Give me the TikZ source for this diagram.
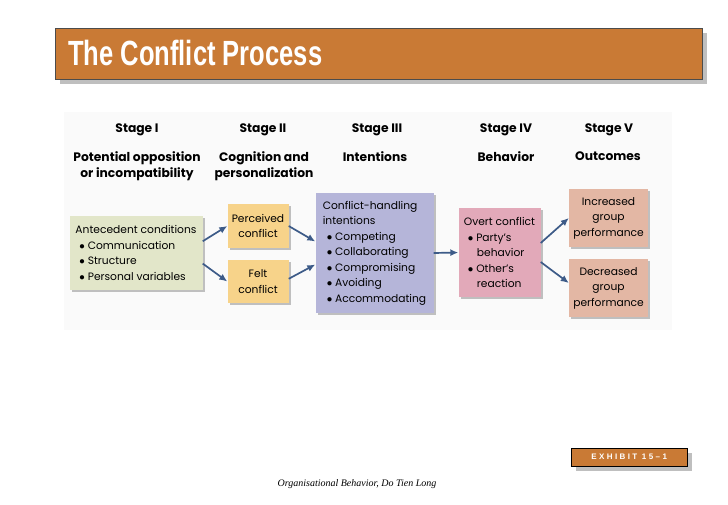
\documentclass[tikz,border=0pt]{standalone}
\usepackage{fontspec}
\setmainfont{Poppins}
\newfontfamily\titlefont{Liberation Sans}
\newfontfamily\footfont{Liberation Serif}
\usetikzlibrary{positioning, shadows, arrows.meta}

\definecolor{titleorange}{HTML}{C97A35}
\definecolor{antegreen}{HTML}{E2E6C9}
\definecolor{percyellow}{HTML}{F7D38A}
\definecolor{intentblue}{HTML}{B5B5D9}
\definecolor{behavpink}{HTML}{E2A9B9}
\definecolor{outsalmon}{HTML}{E3B7A4}
\definecolor{arrowblue}{HTML}{3D5B88}

\tikzset{
  box/.style={draw=none, align=center, font=\fontsize{10.7}{15.5}\selectfont,
    inner sep=3pt, drop shadow={shadow xshift=2pt, shadow yshift=-2pt, fill=black!40, opacity=.6}},
  stagehead/.style={font=\bfseries\fontsize{12.3}{16}\selectfont, align=center},
  flow/.style={-{Latex[length=8pt,width=7pt]}, line width=1.7pt, draw=arrowblue},
}

\begin{document}
\begin{tikzpicture}[x=1pt, y=-1pt]
    \useasboundingbox (0,0) rectangle (728,504);

    % title bar
    \fill[black!25] (60,33) rectangle (707,84);
    \node[draw=black!70, fill=titleorange, minimum width=647pt, minimum height=51pt,
        anchor=north west, inner sep=0pt] (bar) at (55,28) {};
    \node[anchor=west, text=white, inner sep=0pt] (title) at (68,53)
        {\scalebox{0.73}[1]{\titlefont\bfseries\fontsize{35}{36}\selectfont The Conflict Process}};

    % faint panel behind the diagram
    \fill[black!2] (64,112) rectangle (672,330);

    % stage headers
    \node[stagehead] (s1) at (137,130) {Stage I};
    \node[stagehead] (s2) at (263,130) {Stage II};
    \node[stagehead] (s3) at (377,130) {Stage III};
    \node[stagehead] (s4) at (506,130) {Stage IV};
    \node[stagehead] (s5) at (609,130) {Stage V};
    \node[stagehead, anchor=north] (t1) at (137,148) {Potential opposition\\or incompatibility};
    \node[stagehead, anchor=north] (t2) at (264,148) {Cognition and\\personalization};
    \node[stagehead, anchor=north] (t3) at (375,148) {Intentions};
    \node[stagehead, anchor=north] (t4) at (506,148) {Behavior};
    \node[stagehead, anchor=north] (t5) at (608,148) {Outcomes};

    % boxes
    \node[box, fill=antegreen, minimum width=133pt, minimum height=74pt, align=left] (ante) at (136,253)
        {Antecedent conditions\\
         \hspace*{4pt}$\bullet$ Communication\\
         \hspace*{4pt}$\bullet$ Structure\\
         \hspace*{4pt}$\bullet$ Personal variables};
    \node[box, fill=percyellow, minimum width=61pt, minimum height=44pt] (perc) at (258,226)
        {Perceived\\conflict};
    \node[box, fill=percyellow, minimum width=61pt, minimum height=43pt] (felt) at (258,281.5)
        {Felt\\conflict};
    \node[box, fill=intentblue, minimum width=118pt, minimum height=120pt, align=left] (intent) at (374.5,253)
        {Conflict-handling\\intentions\\
         \hspace*{4pt}$\bullet$ Competing\\
         \hspace*{4pt}$\bullet$ Collaborating\\
         \hspace*{4pt}$\bullet$ Compromising\\
         \hspace*{4pt}$\bullet$ Avoiding\\
         \hspace*{4pt}$\bullet$ Accommodating};
    \node[box, fill=behavpink, minimum width=82pt, minimum height=89pt, align=left] (overt) at (499.5,252.5)
        {Overt conflict\\
         \hspace*{4pt}$\bullet$ Party's\\
         \hspace*{13pt}behavior\\
         \hspace*{4pt}$\bullet$ Other's\\
         \hspace*{13pt}reaction};
    \node[box, fill=outsalmon, minimum width=79pt, minimum height=58pt] (incr) at (608.5,218)
        {Increased\\group\\performance};
    \node[box, fill=outsalmon, minimum width=79pt, minimum height=58pt] (decr) at (608.5,288)
        {Decreased\\group\\performance};

    % arrows
    \draw[flow] (ante.10) -- (perc.west);
    \draw[flow] (ante.-9) -- (felt.west);
    \draw[flow] (perc.east) -- (intent.169);
    \draw[flow] (felt.5) -- (intent.191);
    \draw[flow] (intent.east) -- (overt.west);
    \draw[flow] (overt.13) -- (incr.west);
    \draw[flow] (overt.-13) -- ([yshift=5pt]decr.west);

    % exhibit tag
    \fill[black!25] (576,453) rectangle (692,471);
    \node[draw=black, fill=titleorange, minimum width=116pt, minimum height=18pt,
        anchor=north west, inner sep=0pt, text=white,
        font=\titlefont\bfseries\fontsize{8}{9}\selectfont] (exhibit) at (571,448)
        {\addfontfeature{LetterSpace=30}EXHIBIT 15–1};

    % footer
    \node[font=\footfont\itshape\fontsize{10}{12}\selectfont] (foot) at (357,484)
        {Organisational Behavior, Do Tien Long};
\end{tikzpicture}
\end{document}
